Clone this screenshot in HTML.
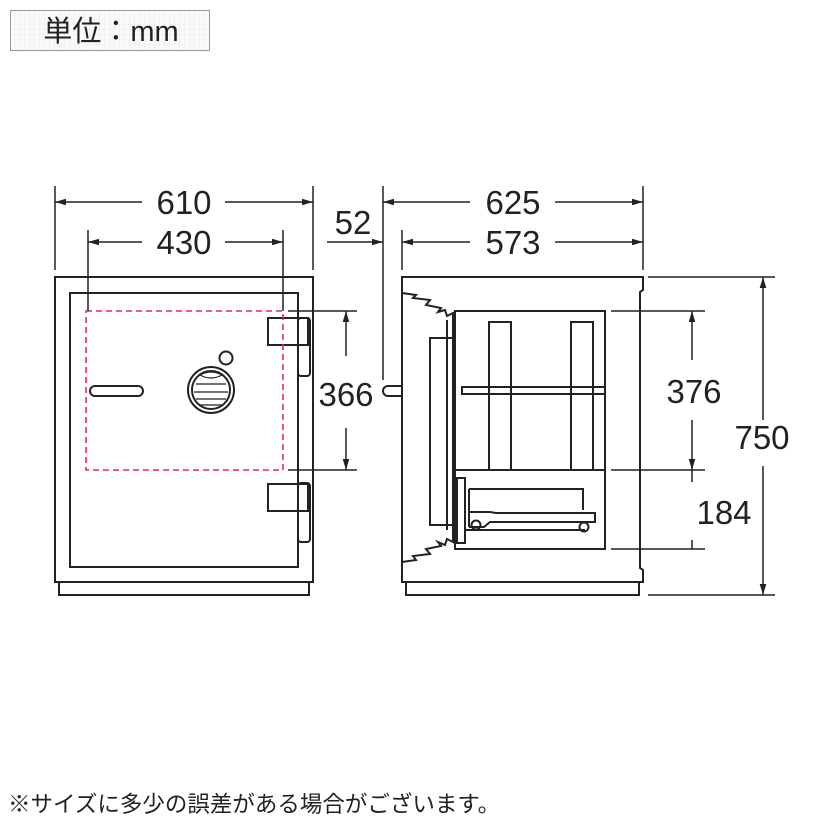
<!DOCTYPE html>
<html><head><meta charset="utf-8"><style>
html,body{margin:0;padding:0;background:#fff;width:830px;height:830px;overflow:hidden}
svg{display:block}
text{font-family:"Liberation Sans","Noto Sans CJK JP",sans-serif;fill:#222}
</style></head><body>
<svg width="830" height="830" viewBox="0 0 830 830" xmlns="http://www.w3.org/2000/svg">
<defs>
<pattern id="g" width="5" height="5" patternUnits="userSpaceOnUse"><rect width="5" height="5" fill="#fafafa"/><path d="M5 0V5H0" fill="none" stroke="#e2e2e2" stroke-width="0.6"/></pattern>
<marker id="a" viewBox="0 0 10 6" refX="10" refY="3" markerWidth="11" markerHeight="7" orient="auto-start-reverse" markerUnits="userSpaceOnUse"><path d="M0 0L10 3L0 6z" fill="#222"/></marker>
</defs>
<rect x="10.5" y="10.5" width="199" height="40" fill="url(#g)" stroke="#999"/>
<text x="111" y="41" font-size="29" text-anchor="middle">単位：mm</text>

<g stroke="#222" stroke-width="2" fill="none">
<rect x="55" y="277" width="258" height="305"/>
<rect x="59" y="582" width="250" height="13"/>
<rect x="70" y="293" width="228" height="274"/>
<rect x="90" y="386" width="53" height="10" rx="5"/>
<circle cx="211" cy="390" r="23"/>
<circle cx="211" cy="390" r="19"/>
<path d="M196 384H226M194 392H228M196 399H226M200 405H222" stroke-width="1.2"/>
<path d="M200 375q11 -6 22 0q-11 6 -22 0" stroke-width="1.2"/>
<circle cx="226" cy="358" r="6.5"/>
<rect x="268" y="318" width="40" height="27"/>
<rect x="298" y="318" width="12" height="58" rx="3"/>
<rect x="268" y="484" width="40" height="27"/>
<rect x="298" y="483" width="12" height="59" rx="3"/>
</g>
<rect x="86" y="311" width="197" height="159" fill="none" stroke="#e0267f" stroke-width="1.6" stroke-dasharray="6 4"/>

<g stroke="#222" stroke-width="2" fill="none">
<path d="M402 277H643V290L640 292V568L643 570V582H402Z"/>
<rect x="406" y="582" width="233" height="13"/>
<path d="M402 293L416 295L413 298L430 300L426 305L441 308L438 312L445 310L447 316L453 313V542L447 539L445 545L438 542L441 546L426 549L430 554L413 556L416 560L402 562"/>
<path d="M453 338H430V525H453"/>
<path d="M447 320V530"/>
<rect x="455" y="311" width="150" height="238"/>
<path d="M455 470H605"/>
<rect x="489" y="322" width="22" height="148"/>
<rect x="571" y="322" width="22" height="148"/>
<rect x="462" y="387" width="143" height="7"/>
<rect x="457" y="478" width="8" height="65"/>
<path d="M469 489H583V510M469 489V527M469 512H490L496 513H595V522H490L484 527H469M465 530H585"/>
<circle cx="476" cy="525" r="4.5"/>
<circle cx="584" cy="527" r="4.5"/>
<path d="M402 386H388a5 5 0 0 0 0 10H402"/>
</g>

<g stroke="#222" stroke-width="1.5" fill="none">
<path d="M55 186V270M313 186V270M88 230V311M283 230V311"/>
<path d="M383 186V380M402 230V270M643 186V270"/>
<path d="M288 311H357M288 470H357"/>
<path d="M611 311H705M611 470H705M611 549H705M648 277H775M648 595H775"/>
<path d="M55 202H142M225 202H313" marker-start="url(#a)" marker-end="url(#a)"/>
<path d="M88 242H142M225 242H283" marker-start="url(#a)" marker-end="url(#a)"/>
<path d="M383 202H470M555 202H643" marker-start="url(#a)" marker-end="url(#a)"/>
<path d="M402 242H470M555 242H643" marker-start="url(#a)" marker-end="url(#a)"/>
<path d="M327 242H383" marker-end="url(#a)"/>
<path d="M346 311V356" marker-start="url(#a)"/>
<path d="M346 428V470" marker-end="url(#a)"/>
<path d="M692 311V360" marker-start="url(#a)"/>
<path d="M692 420V470" marker-end="url(#a)"/>
<path d="M692 470V482"/>
<path d="M692 540V549"/>
<path d="M763 277V420" marker-start="url(#a)"/>
<path d="M763 466V595" marker-end="url(#a)"/>
</g>

<g font-size="33">
<text x="184" y="214" text-anchor="middle">610</text>
<text x="184" y="254" text-anchor="middle">430</text>
<text x="513" y="214" text-anchor="middle">625</text>
<text x="513" y="254" text-anchor="middle">573</text>
<text x="353" y="234" text-anchor="middle">52</text>
<text x="346" y="406" text-anchor="middle">366</text>
<text x="694" y="403" text-anchor="middle">376</text>
<text x="724" y="524" text-anchor="middle">184</text>
<text x="762" y="449" text-anchor="middle">750</text>
</g>
<text x="8" y="812" font-size="22.5">※サイズに多少の誤差がある場合がございます。</text>
</svg>
</body></html>
